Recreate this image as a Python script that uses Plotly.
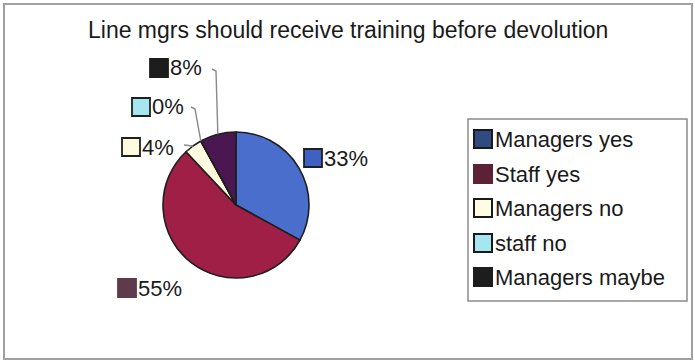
import math
import plotly.graph_objects as go

# Survey responses
labels = ["Managers yes", "Staff yes", "Managers no", "staff no", "Managers maybe"]
values = [33, 55, 4, 0, 8]
title_text = "Line mgrs should receive training before devolution"

slice_colors = ["#4a6ecb", "#a01f47", "#fffbdf", "#a6e6f0", "#4a1750"]
legend_colors = ["#2f4b80", "#5c2037", "#fffbe4", "#a6e6f0", "#1d1d1d"]
label_colors = ["#3f61c2", "#5e3a4b", "#fffbdf", "#a6e6f0", "#1d1d1d"]
boxed = [True, False, True, True, False]

W, H = 695, 362
FONT = "Liberation Sans, Arial, sans-serif"
TEXT = "#1a1a1a"


def px(x):
    return x / W


def py(y):
    return 1 - y / H


# pie geometry (pixels)
cx, cy, r = 236, 205, 73

fig = go.Figure(
    go.Pie(
        labels=labels,
        values=values,
        sort=False,
        direction="clockwise",
        rotation=0,
        marker=dict(colors=slice_colors, line=dict(color="#1e1e1e", width=1.6)),
        textinfo="none",
        hoverinfo="label+percent",
        showlegend=False,
        domain=dict(x=[px(cx - r), px(cx + r)], y=[py(cy + r), py(cy - r)]),
    )
)

shapes = []
annotations = []

# outer frame
shapes.append(dict(type="rect", xref="paper", yref="paper",
                   x0=px(4), x1=px(692), y0=py(359), y1=py(4),
                   line=dict(color="#a0a0a0", width=2), layer="below"))

# percentage labels: swatch left edge, vertical centre, leader elbow
label_pos = [
    (304, 158, None),
    (118, 288, None),
    (122, 147, (184, 145)),
    (132, 107, (191, 107)),
    (150, 68, (212, 69)),
]
total = sum(values)
cum = 0
for i, v in enumerate(values):
    mid = (cum + v / 2) / total * 2 * math.pi
    cum += v
    pct = round(100 * v / total)
    sx, sy, elbow = label_pos[i]
    s = 18
    shapes.append(dict(type="rect", xref="paper", yref="paper",
                       x0=px(sx), x1=px(sx + s), y0=py(sy + s / 2), y1=py(sy - s / 2),
                       fillcolor=label_colors[i],
                       line=dict(color="#202020" if boxed[i] or i == 0 else label_colors[i], width=1.8)))
    annotations.append(dict(xref="paper", yref="paper", x=px(sx + s), y=py(sy),
                            xanchor="left", yanchor="middle", showarrow=False,
                            text=f"{pct}%", font=dict(family=FONT, size=22, color=TEXT)))
    if elbow is not None:
        ex = cx + r * math.sin(mid)
        ey = cy - r * math.cos(mid)
        ox, oy = elbow
        if i == 2:
            path = f"M {px(ox)} {py(oy)} L {px(ex)} {py(ey)}"
        else:
            path = (f"M {px(ox)} {py(oy)} L {px(ox + 4)} {py(oy + 2)} "
                    f"L {px(ex)} {py(ey)}")
        shapes.append(dict(type="path", xref="paper", yref="paper", path=path,
                           line=dict(color="#8a8a8a", width=1.4)))

# legend box
shapes.append(dict(type="rect", xref="paper", yref="paper",
                   x0=px(468), x1=px(687), y0=py(301), y1=py(119),
                   line=dict(color="#8c8c8c", width=1.5)))
row_y = [139, 174, 208, 243, 277]
for i, name in enumerate(labels):
    yc = row_y[i]
    shapes.append(dict(type="rect", xref="paper", yref="paper",
                       x0=px(474), x1=px(492), y0=py(yc + 9), y1=py(yc - 9),
                       fillcolor=legend_colors[i],
                       line=dict(color="#1a1a1a" if boxed[i] else legend_colors[i], width=2)))
    annotations.append(dict(xref="paper", yref="paper", x=px(493), y=py(yc),
                            xanchor="left", yanchor="middle", showarrow=False,
                            text=name, font=dict(family=FONT, size=22, color=TEXT)))

annotations.append(dict(xref="paper", yref="paper", x=px(348), y=py(30),
                        xanchor="center", yanchor="middle", showarrow=False,
                        text=title_text, font=dict(family=FONT, size=23, color=TEXT)))

fig.update_layout(
    width=W, height=H,
    margin=dict(l=0, r=0, t=0, b=0),
    paper_bgcolor="white", plot_bgcolor="white",
    shapes=shapes, annotations=annotations,
    showlegend=False,
)

fig.write_html("out.html")
